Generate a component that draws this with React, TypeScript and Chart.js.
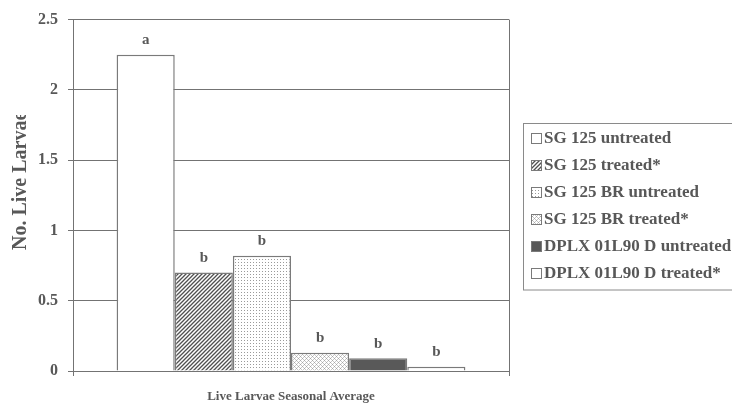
import React, { useEffect, useRef } from "react";
import { Chart, registerables } from "chart.js";

Chart.register(...registerables);

// ---- data ----
const categories = [""];
const xAxisTitle = "Live Larvae Seasonal Average";
const yAxisTitle = "No. Live Larvae";
const seriesNames = [
  "SG 125 untreated",
  "SG 125 treated*",
  "SG 125 BR untreated",
  "SG 125 BR treated*",
  "DPLX 01L90 D untreated",
  "DPLX 01L90 D treated*",
];
const seriesValues = [2.25, 0.7, 0.82, 0.13, 0.09, 0.03];
const significanceLetters = ["a", "b", "b", "b", "b", "b"];
const yMin = 0;
const yMax = 2.5;
const yStep = 0.5;

// ---- style ----
const FONT = '"Liberation Serif", "Times New Roman", serif';
const TEXT = "#585858";
const GRID = "#737373";
const BAR_BORDER = "#7a7a7a";

function makeTile(w: number, h: number, draw: (c: CanvasRenderingContext2D) => void) {
  const cv = document.createElement("canvas");
  cv.width = w;
  cv.height = h;
  const c = cv.getContext("2d")!;
  c.fillStyle = "#ffffff";
  c.fillRect(0, 0, w, h);
  draw(c);
  return cv;
}

function makePatterns(ctx: CanvasRenderingContext2D) {
  const hatch = makeTile(4, 4, (c) => {
    c.strokeStyle = "#505050";
    c.lineWidth = 1.3;
    c.beginPath();
    c.moveTo(-1, 5);
    c.lineTo(5, -1);
    c.moveTo(-1, 1);
    c.lineTo(1, -1);
    c.moveTo(3, 5);
    c.lineTo(5, 3);
    c.stroke();
  });
  const dots = makeTile(3, 3, (c) => {
    c.fillStyle = "#9a9a9a";
    c.fillRect(1, 1, 1, 1);
  });
  const plaid = makeTile(4, 4, (c) => {
    c.fillStyle = "#a8a8a8";
    c.fillRect(0, 0, 1, 1);
    c.fillRect(2, 2, 1, 1);
    c.fillStyle = "#c8c8c8";
    c.fillRect(1, 1, 1, 1);
    c.fillRect(3, 3, 1, 1);
    c.fillRect(1, 3, 1, 1);
    c.fillRect(3, 1, 1, 1);
  });
  return [
    "#ffffff",
    ctx.createPattern(hatch, "repeat")!,
    ctx.createPattern(dots, "repeat")!,
    ctx.createPattern(plaid, "repeat")!,
    "#595959",
    "#ffffff",
  ] as (string | CanvasPattern)[];
}

export default function App() {
  const canvasRef = useRef<HTMLCanvasElement | null>(null);

  useEffect(() => {
    const canvas = canvasRef.current!;
    const ctx = canvas.getContext("2d")!;
    const fills = makePatterns(ctx);

    const overlay = {
      id: "overlay",
      afterDatasetsDraw(chart: any) {
        const c: CanvasRenderingContext2D = chart.ctx;
        c.save();
        // significance letters
        c.font = `bold 15px ${FONT}`;
        c.fillStyle = TEXT;
        c.textAlign = "center";
        c.textBaseline = "alphabetic";
        chart.data.datasets.forEach((_ds: any, i: number) => {
          const el = chart.getDatasetMeta(i).data[0];
          c.fillText(significanceLetters[i], el.x, el.y - 10.5);
        });
        c.restore();

        // y axis title (clipped like the original)
        c.save();
        c.beginPath();
        c.rect(0, 115, 60, 291);
        c.clip();
        c.translate(26, 250);
        c.rotate(-Math.PI / 2);
        c.font = `bold 20px ${FONT}`;
        c.fillStyle = TEXT;
        c.textAlign = "left";
        c.textBaseline = "alphabetic";
        c.fillText(yAxisTitle, 0, 0);
        c.restore();

        // legend
        c.save();
        c.strokeStyle = "#8a8a8a";
        c.lineWidth = 1;
        c.strokeRect(523.5, 123.5, 300, 166.5);
        const startY = 137.5;
        const gap = 27.1;
        c.font = `bold 17px ${FONT}`;
        c.textAlign = "left";
        c.textBaseline = "middle";
        seriesNames.forEach((name, i) => {
          const y = startY + i * gap;
          c.fillStyle = fills[i] as any;
          c.fillRect(531, Math.round(y - 5), 10, 10);
          c.strokeStyle = BAR_BORDER;
          c.strokeRect(531.5, Math.round(y - 5) + 0.5, 10, 10);
          c.fillStyle = TEXT;
          c.fillText(name, 544, y + 1);
        });
        c.restore();
      },
    };

    const chart = new Chart(canvas, {
      type: "bar",
      data: {
        labels: categories,
        datasets: seriesNames.map((name, i) => ({
          label: name,
          data: [seriesValues[i]],
          backgroundColor: fills[i] as any,
          borderColor: BAR_BORDER,
          borderWidth: 1.5,
          categoryPercentage: 0.8,
          barPercentage: 1,
        })),
      },
      options: {
        responsive: false,
        animation: false,
        layout: { padding: { left: 0, top: 17, right: 223, bottom: 0 } },
        plugins: {
          legend: { display: false },
          tooltip: { enabled: false },
        },
        scales: {
          x: {
            ticks: { display: false },
            grid: {
              display: true,
              offset: true,
              color: GRID,
              lineWidth: 1,
              tickLength: 5,
              drawTicks: true,
            },
            border: { display: true, color: GRID, width: 1 },
            title: {
              display: true,
              text: xAxisTitle,
              color: TEXT,
              font: { family: FONT, size: 13, weight: "bold" },
              padding: { top: 0, bottom: 2 },
            },
            afterFit: (s: any) => {
              s.height = 35;
            },
          },
          y: {
            min: yMin,
            max: yMax,
            ticks: {
              stepSize: yStep,
              color: TEXT,
              padding: 10,
              font: { family: FONT, size: 16, weight: "bold" },
              callback: (v: any) => String(Number(v)),
            },
            grid: { color: GRID, lineWidth: 1, tickLength: 5 },
            border: { display: true, color: GRID, width: 1 },
            afterFit: (s: any) => {
              s.width = 73;
            },
          },
        },
      },
      plugins: [overlay],
    });
    return () => chart.destroy();
  }, []);

  return (
    <div style={{ position: "fixed", left: 0, top: 0, width: 732, height: 406, background: "#fff" }}>
      <canvas ref={canvasRef} width={732} height={406} style={{ display: "block" }} />
    </div>
  );
}
